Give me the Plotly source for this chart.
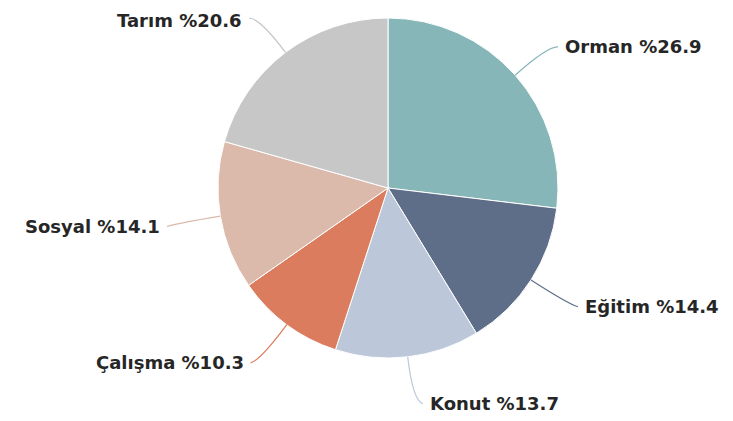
import math
import plotly.graph_objects as go

# Slice data (clockwise from 12 o'clock)
labels = ["Orman", "Eğitim", "Konut", "Çalışma", "Sosyal", "Tarım"]
values = [26.9, 14.4, 13.7, 10.3, 14.1, 20.6]
colors = ["#87b6b9", "#5f6e88", "#bcc8da", "#da7c5d", "#dbb9ab", "#c7c7c7"]

W, H = 733, 421
OFF = 8  # page body margin that shifts the figure
cx, cy, r = 388, 188, 170  # pie centre and radius in page pixels


def to_paper(px, py):
    return (px - OFF) / W, 1 - (py - OFF) / H


x0, y1 = to_paper(cx - r, cy - r)
x1, y0 = to_paper(cx + r, cy + r)

fig = go.Figure()
fig.add_trace(go.Pie(
    labels=labels,
    values=values,
    sort=False,
    direction="clockwise",
    rotation=0,
    textinfo="none",
    hoverinfo="label+percent",
    marker=dict(colors=colors, line=dict(color="white", width=1)),
    domain=dict(x=[x0, x1], y=[y0, y1]),
    showlegend=False,
))

# Leader lines and outside labels, placed from the slice mid-angles
total = sum(values)
cum = 0
shapes = []
annotations = []
for lab, val, col in zip(labels, values, colors):
    mid = (cum + val / 2) / total * 2 * math.pi
    cum += val
    sx, sy = math.sin(mid), -math.cos(mid)
    side = 1 if sx >= 0 else -1
    p0 = (cx + r * sx, cy + r * sy)
    p1 = (cx + 214 * sx, cy + 214 * sy)
    p2 = (p1[0] + side * 10, p1[1] + (3 if sy > 0 else 1))
    a, b, c = to_paper(*p0), to_paper(*p1), to_paper(*p2)
    shapes.append(dict(
        type="path", xref="paper", yref="paper",
        path=f"M {a[0]} {a[1]} Q {b[0]} {b[1]} {c[0]} {c[1]}",
        line=dict(color=col, width=1.2),
    ))
    tpos = to_paper(p2[0] + side * 6, p2[1] + (2 if p2[1] < 30 else 0))
    annotations.append(dict(
        x=tpos[0], y=tpos[1], xref="paper", yref="paper",
        text=f"<b>{lab} %{val}</b>",
        showarrow=False,
        borderpad=0,
        xanchor="left" if side > 0 else "right",
        yanchor="middle",
        font=dict(family="DejaVu Sans", size=18, color="#262626"),
    ))

fig.update_layout(
    width=W, height=H,
    margin=dict(l=0, r=0, t=0, b=0),
    paper_bgcolor="white",
    plot_bgcolor="white",
    shapes=shapes,
    annotations=annotations,
)

fig.write_html("out.html")
